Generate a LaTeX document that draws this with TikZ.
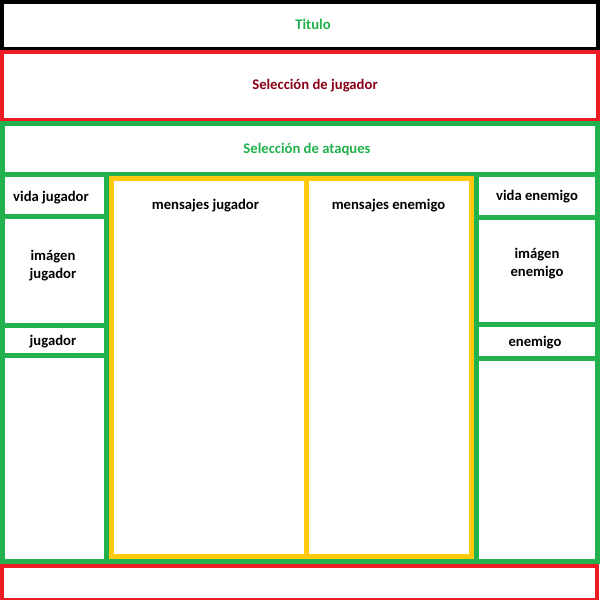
\documentclass[tikz,border=0pt]{standalone}
\usepackage{fontspec}
\setmainfont{Carlito}
\definecolor{pgreen}{HTML}{22B14C}
\definecolor{pred}{HTML}{ED1C24}
\definecolor{pyellow}{HTML}{FFC90E}
\definecolor{pdarkred}{HTML}{880015}
\tikzset{
  lbl/.style={inner sep=0pt, anchor=base, font=\fontsize{14.67}{18}\selectfont\bfseries, text=black},
  gline/.style={draw=pgreen, line width=5},
  yline/.style={draw=pyellow, line width=5},
  rline/.style={draw=pred, line width=4},
  kline/.style={draw=black, line width=4}
}
\begin{document}
\begin{tikzpicture}[x=1pt,y=-1pt]
\useasboundingbox (0,0) rectangle (600,600);
\fill[white] (0,0) rectangle (600,600);
\clip (0,0) rectangle (600,600);
% title box
\draw[kline] (1.5,1.5) rectangle (597.5,48.5);
% player selection box
\draw[rline] (1.7,52) rectangle (597.5,119.5);
% green frame
\draw[gline] (2,123.5) rectangle (597,561.5);
\draw[gline] (2,174.5) -- (597,174.5);
% left column
\draw[gline] (106.5,174.5) -- (106.5,561.5);
\draw[gline] (2,216) -- (106.5,216);
\draw[gline] (2,325) -- (106.5,325);
\draw[gline] (2,355.5) -- (106.5,355.5);
% right column
\draw[gline] (476.5,174.5) -- (476.5,561.5);
\draw[gline] (476.5,217.5) -- (597,217.5);
\draw[gline] (476.5,324) -- (597,324);
\draw[gline] (476.5,358.5) -- (597,358.5);
% messages
\draw[yline] (111.5,178.5) rectangle (471.5,556);
\draw[yline] (306,178.5) -- (306,556);
% bottom box
\draw[rline] (1.5,566) rectangle (596.5,599.5);
% labels
\node[lbl, text=pgreen] (titulo) at (313,29) {Titulo};
\node[lbl, text=pdarkred] (seljug) at (315,89.5) {Selección de jugador};
\node[lbl, text=pgreen] (selata) at (307,153.5) {Selección de ataques};
\node[lbl] (vidajug) at (51,201) {vida jugador};
\node[lbl] (imgjug1) at (53,260.5) {imágen};
\node[lbl] (imgjug2) at (53,278.5) {jugador};
\node[lbl] (jug) at (53,345) {jugador};
\node[lbl] (mensjug) at (205.5,209) {mensajes jugador};
\node[lbl] (mensene) at (388.5,209) {mensajes enemigo};
\node[lbl] (vidaene) at (537,200.5) {vida enemigo};
\node[lbl] (imgene1) at (537,258) {imágen};
\node[lbl] (imgene2) at (537,276) {enemigo};
\node[lbl] (ene) at (535,346) {enemigo};
\end{tikzpicture}
\end{document}
